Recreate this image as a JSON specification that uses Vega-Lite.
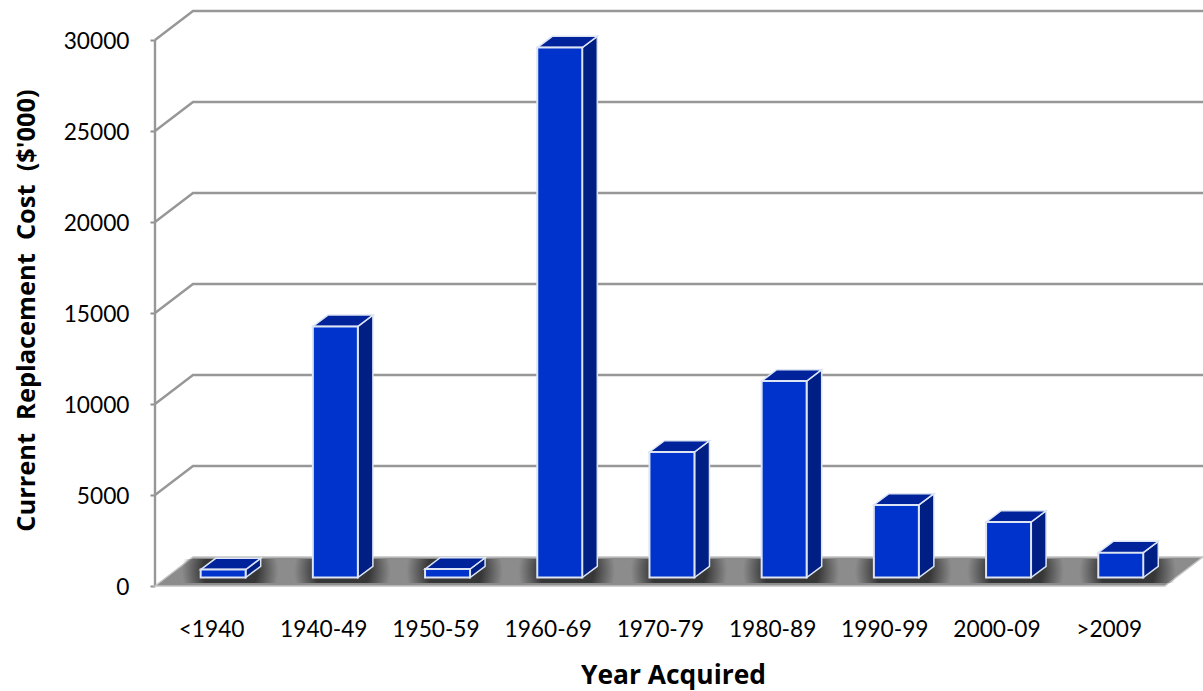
{
  "$schema": "https://vega.github.io/schema/vega-lite/v6.json",
  "width": 1048,
  "height": 579,
  "padding": {"left": 155, "top": 11, "right": 0, "bottom": 101},
  "autosize": {"type": "none"},
  "background": "white",
  "config": {"view": {"stroke": null}, "font": "Lato"},
  "datasets": {
    "acquisitions": [
      {"period": "<1940", "cost": 440},
      {"period": "1940-49", "cost": 13800},
      {"period": "1950-59", "cost": 470},
      {"period": "1960-69", "cost": 29120},
      {"period": "1970-79", "cost": 6900},
      {"period": "1980-89", "cost": 10800},
      {"period": "1990-99", "cost": 3990},
      {"period": "2000-09", "cost": 3050},
      {"period": ">2009", "cost": 1370}
    ],
    "levels": [
      {"level": 5000}, {"level": 10000}, {"level": 15000},
      {"level": 20000}, {"level": 25000}, {"level": 30000}
    ],
    "floor": [
      {"sx": 0, "upper": 0, "lower": 0},
      {"sx": 0.3387, "upper": 1593, "lower": 0},
      {"sx": 9, "upper": 1593, "lower": 0},
      {"sx": 9.3387, "upper": 1593, "lower": 1593}
    ],
    "spine": [{"sx": 0, "upper": 30000, "lower": 0}]
  },
  "encoding": {
    "x": {
      "field": "sx",
      "type": "quantitative",
      "scale": {"domain": [0, 9.3405], "nice": false, "zero": false},
      "axis": {
        "values": [0.5, 1.5, 2.5, 3.5, 4.5, 5.5, 6.5, 7.5, 8.5],
        "labelExpr": "['<1940','1940-49','1950-59','1960-69','1970-79','1980-89','1990-99','2000-09','>2009'][floor(datum.value)]",
        "domain": false,
        "ticks": false,
        "grid": false,
        "labelFont": "Lato",
        "labelFontSize": 22.7,
        "labelColor": "#000000",
        "labelPadding": 28,
        "labelOverlap": false,
        "title": "Year Acquired",
        "titleFont": "Open Sans",
        "titleFontSize": 26.4,
        "titleFontWeight": "bold",
        "titleColor": "#000000",
        "titleX": 518,
        "titleY": 72
      }
    },
    "y": {
      "field": "upper",
      "type": "quantitative",
      "scale": {"domain": [-220, 31593], "nice": false, "zero": false},
      "axis": {
        "values": [0, 5000, 10000, 15000, 20000, 25000, 30000],
        "format": "d",
        "domain": false,
        "grid": false,
        "tickColor": "#8f8f8f",
        "tickWidth": 2,
        "tickSize": 5,
        "labelFont": "Lato",
        "labelFontSize": 22.7,
        "labelColor": "#000000",
        "labelPadding": 21,
        "labelOffset": 2,
        "title": "Current \u00a0Replacement \u00a0Cost \u00a0($'000)",
        "titleFont": "Open Sans",
        "titleFontSize": 25.4,
        "titleFontWeight": "bold",
        "titleColor": "#000000",
        "titleX": -116,
        "titleY": 299
      }
    },
    "y2": {"field": "lower"}
  },
  "layer": [
    {
      "description": "Back-wall gridlines running from the axis across the depth of the wall",
      "data": {"name": "levels"},
      "transform": [
        {"calculate": "[0, 1, 2]", "as": "vertex"},
        {"flatten": ["vertex"]},
        {"calculate": "[0, 0.3387, 9.3405][datum.vertex]", "as": "sx"},
        {"calculate": "datum.level + [0, 1593, 1593][datum.vertex]", "as": "upper"}
      ],
      "mark": {"type": "line", "color": "#979797", "strokeWidth": 2.4},
      "encoding": {"detail": {"field": "level"}, "y2": null}
    },
    {
      "description": "Value axis line",
      "data": {"name": "spine"},
      "mark": {"type": "rule", "color": "#979797", "strokeWidth": 2.4}
    },
    {
      "description": "Chart floor",
      "data": {"name": "floor"},
      "mark": {"type": "area", "color": "#8c8c8c", "stroke": "#c4c4c4", "strokeWidth": 1.5}
    },
    {
      "description": "Soft shadow pooled around each column base",
      "data": {"name": "acquisitions"},
      "transform": [
        {"window": [{"op": "row_number", "as": "rank"}]},
        {"calculate": "datum.rank - 1 + 0.24", "as": "sx"},
        {"calculate": "datum.rank - 1 + 1.1", "as": "sx2"},
        {"calculate": "1480", "as": "upper"},
        {"calculate": "170", "as": "lower"}
      ],
      "mark": {
        "type": "rect",
        "color": {
          "gradient": "radial",
          "x1": 0.5, "y1": 0.5, "r1": 0.28,
          "x2": 0.5, "y2": 0.5, "r2": 0.5,
          "stops": [
            {"offset": 0, "color": "rgba(50,50,50,0.95)"},
            {"offset": 1, "color": "rgba(50,50,50,0)"}
          ]
        }
      },
      "encoding": {"x2": {"field": "sx2"}}
    },
    {
      "description": "Column side faces",
      "data": {"name": "acquisitions"},
      "transform": [
        {"window": [{"op": "row_number", "as": "rank"}]},
        {"calculate": "[0, 1]", "as": "vertex"},
        {"flatten": ["vertex"]},
        {"calculate": "datum.rank - 1 + 0.808 + datum.vertex * 0.134", "as": "sx"},
        {"calculate": "datum.cost + 462 + datum.vertex * 621", "as": "upper"},
        {"calculate": "462 + datum.vertex * 621", "as": "lower"}
      ],
      "mark": {"type": "area", "color": "#001f85", "stroke": "#dde4f4", "strokeWidth": 1.5},
      "encoding": {"detail": {"field": "period"}}
    },
    {
      "description": "Column top faces",
      "data": {"name": "acquisitions"},
      "transform": [
        {"window": [{"op": "row_number", "as": "rank"}]},
        {"calculate": "[0, 1, 2, 3]", "as": "vertex"},
        {"flatten": ["vertex"]},
        {"calculate": "datum.rank - 1 + 0.407 + [0, 0.134, 0.401, 0.535][datum.vertex]", "as": "sx"},
        {"calculate": "datum.cost + 462 + [0, 621, 621, 621][datum.vertex]", "as": "upper"},
        {"calculate": "datum.cost + 462 + [0, 0, 0, 621][datum.vertex]", "as": "lower"}
      ],
      "mark": {"type": "area", "color": "#00229a", "stroke": "#dde4f4", "strokeWidth": 1.5},
      "encoding": {"detail": {"field": "period"}}
    },
    {
      "description": "Column front faces",
      "data": {"name": "acquisitions"},
      "transform": [
        {"window": [{"op": "row_number", "as": "rank"}]},
        {"calculate": "datum.rank - 1 + 0.407", "as": "sx"},
        {"calculate": "datum.rank - 1 + 0.808", "as": "sx2"},
        {"calculate": "datum.cost + 462", "as": "upper"},
        {"calculate": "462", "as": "lower"}
      ],
      "mark": {"type": "rect", "color": "#0033cc", "stroke": "#dde4f4", "strokeWidth": 2},
      "encoding": {"x2": {"field": "sx2"}}
    }
  ]
}
